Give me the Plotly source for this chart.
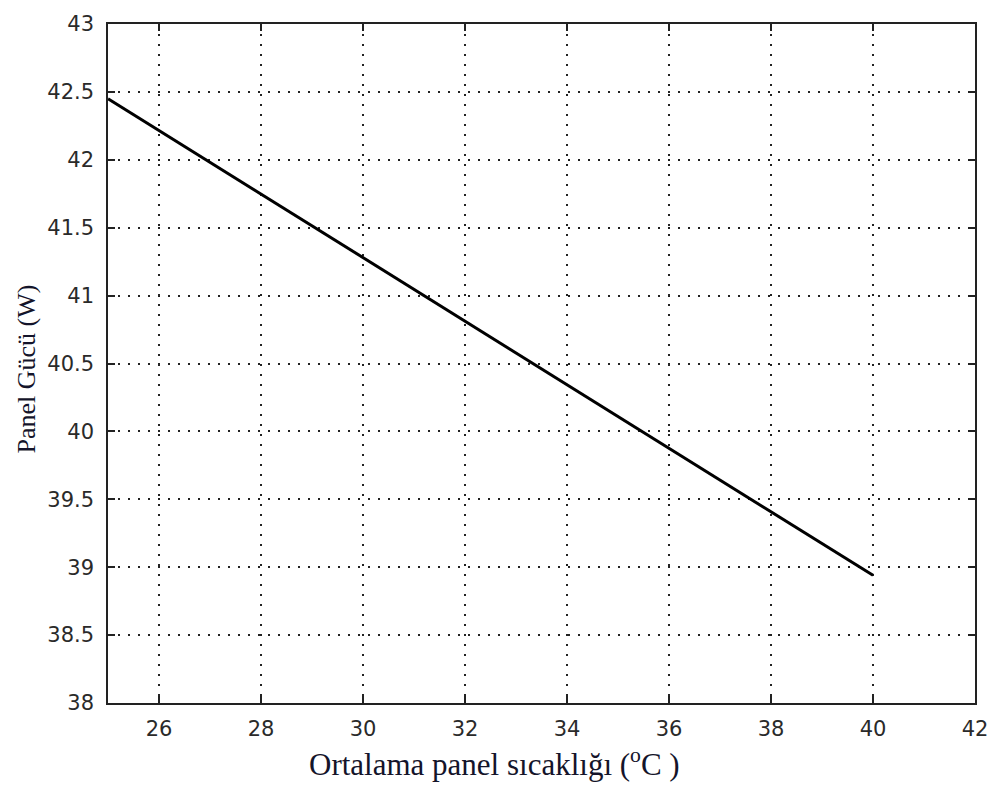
import plotly.graph_objects as go

temps = [25, 30, 35, 40]
power = [42.45, 41.28, 40.11, 38.94]
x_ticks = [26, 28, 30, 32, 34, 36, 38, 40, 42]
y_ticks = [38, 38.5, 39, 39.5, 40, 40.5, 41, 41.5, 42, 42.5, 43]
y_tick_text = ["38", "38.5", "39", "39.5", "40", "40.5", "41", "41.5", "42", "42.5", "43"]

fig = go.Figure()
fig.add_trace(go.Scatter(x=temps, y=power, mode="lines",
                         line=dict(color="black", width=3), showlegend=False))

axis_common = dict(
    showline=True, linecolor="#222", linewidth=1.5, mirror="ticks",
    ticks="inside", ticklen=7, tickcolor="#222", tickwidth=1.5,
    showgrid=True, gridcolor="#222", gridwidth=1.5, griddash="2px,8px",
    zeroline=False, tickfont=dict(family="DejaVu Sans", size=21, color="#2a2a2a"),
)

fig.update_xaxes(range=[25, 42], tickvals=x_ticks, ticktext=[str(v) for v in x_ticks],
                 ticklabelstandoff=6, **axis_common)
fig.update_yaxes(range=[38, 43], tickvals=y_ticks, ticktext=y_tick_text,
                 ticklabelstandoff=8, **axis_common)

fig.add_annotation(text="Ortalama panel sıcaklığı (<sup>o</sup>C )", xref="paper", yref="paper",
                   x=(495 - 108) / (976 - 108), y=-(763 - 703) / (703 - 19),
                   xanchor="center", yanchor="middle",
                   showarrow=False, font=dict(family="Liberation Serif", size=31, color="#14142a"))
fig.add_annotation(text="Panel Gücü (W)", xref="paper", yref="paper",
                   x=-(108 - 26) / (976 - 108), y=1 - (367 - 19) / (703 - 19),
                   xanchor="center", yanchor="middle",
                   textangle=-90, showarrow=False,
                   font=dict(family="Liberation Serif", size=26, color="#14142a"))

fig.update_layout(width=1000, height=786, margin=dict(l=108, r=24, t=19, b=83),
                  paper_bgcolor="white", plot_bgcolor="white")

fig.write_html("out.html")
